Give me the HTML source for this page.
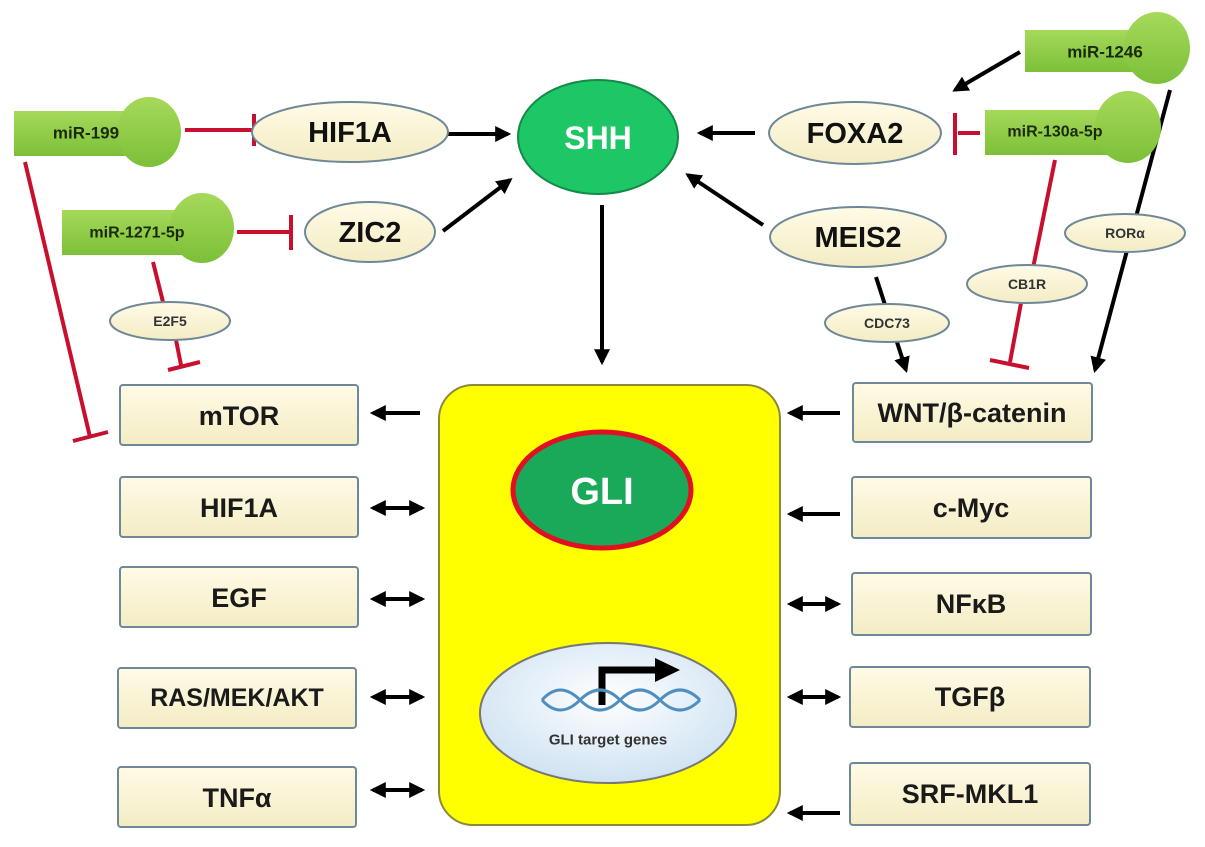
<!DOCTYPE html>
<html><head><meta charset="utf-8"><style>
html,body{margin:0;padding:0;background:#fff}
svg{display:block}
text{font-family:"Liberation Sans","DejaVu Sans",sans-serif;font-weight:bold;text-anchor:middle;dominant-baseline:central}
</style></head><body>
<svg width="1205" height="847" viewBox="0 0 1205 847" xmlns="http://www.w3.org/2000/svg">
<defs>
<marker id="ah" viewBox="0 0 10 10" refX="8" refY="5" markerWidth="4" markerHeight="4" orient="auto-start-reverse"><path d="M0,0 L10,5 L0,10 z" fill="#000"/></marker>
<linearGradient id="cream" x1="0" y1="0" x2="0" y2="1"><stop offset="0" stop-color="#fffbe6"/><stop offset="1" stop-color="#f3ecc4"/></linearGradient>
<linearGradient id="grn" x1="0" y1="0" x2="0" y2="1"><stop offset="0" stop-color="#a6d95a"/><stop offset="1" stop-color="#7cc038"/></linearGradient>
<radialGradient id="dna" cx="0.5" cy="0.4" r="0.6"><stop offset="0" stop-color="#ffffff"/><stop offset="1" stop-color="#cfe2f2"/></radialGradient>
</defs>

<g stroke="#000" stroke-width="4" fill="none" marker-end="url(#ah)">
<line x1="447" y1="134" x2="508" y2="134"/>
<line x1="443" y1="231" x2="510" y2="180"/>
<line x1="755" y1="133" x2="700" y2="133"/>
<line x1="763" y1="225" x2="688" y2="175"/>
<line x1="602" y1="205" x2="602" y2="362"/>
<line x1="1020" y1="52" x2="955" y2="90"/>
<line x1="1170" y1="90" x2="1095" y2="370"/>
<line x1="876" y1="277" x2="906" y2="370"/>
<line x1="840" y1="413" x2="790" y2="413"/>
<line x1="420" y1="413" x2="373" y2="413"/>
<line x1="840" y1="514" x2="790" y2="514"/>
<line x1="840" y1="813" x2="790" y2="813"/>
<line x1="603" y1="563" x2="603" y2="605"/>
</g>
<g stroke="#000" stroke-width="4" fill="none" marker-end="url(#ah)" marker-start="url(#ah)">
<line x1="373" y1="508" x2="422" y2="508"/>
<line x1="373" y1="599" x2="422" y2="599"/>
<line x1="373" y1="697" x2="422" y2="697"/>
<line x1="373" y1="790" x2="422" y2="790"/>
<line x1="790" y1="604" x2="838" y2="604"/>
<line x1="790" y1="697" x2="838" y2="697"/>
</g>

<g stroke="#c8102e" stroke-width="4" fill="none">
<line x1="185" y1="130" x2="253" y2="130"/><line x1="254" y1="114" x2="254" y2="146"/>
<line x1="237" y1="232" x2="290" y2="232"/><line x1="291" y1="215" x2="291" y2="250"/>
<line x1="980" y1="133" x2="958" y2="133"/><line x1="955" y1="113" x2="955" y2="155"/>
<line x1="25" y1="162" x2="90" y2="437"/><line x1="73" y1="441" x2="108" y2="432"/>
<line x1="153" y1="262" x2="163" y2="302"/>
<line x1="176" y1="340" x2="181" y2="365"/><line x1="168" y1="370" x2="200" y2="362"/>
<line x1="1055" y1="160" x2="1033" y2="268"/>
<line x1="1021" y1="303" x2="1010" y2="362"/><line x1="990" y1="360" x2="1029" y2="368"/>
</g>

<g stroke="none" fill="url(#grn)">
<rect x="14" y="111" width="140" height="45"/><ellipse cx="149" cy="132" rx="32" ry="35"/>
<rect x="62" y="210" width="150" height="45"/><ellipse cx="202" cy="228" rx="32" ry="35"/>
<rect x="1025" y="30" width="140" height="42"/><ellipse cx="1157" cy="48" rx="33" ry="36"/>
<rect x="985" y="110" width="145" height="45"/><ellipse cx="1128" cy="127" rx="33" ry="36"/>
</g>
<g font-size="17" fill="#1a2a0a">
<text x="86" y="133">miR-199</text>
<text x="137" y="233" font-size="16">miR-1271-5p</text>
<text x="1105" y="52">miR-1246</text>
<text x="1055" y="132" font-size="16">miR-130a-5p</text>
</g>

<g fill="url(#cream)" stroke="#6f8899" stroke-width="2">
<ellipse cx="350" cy="132" rx="98" ry="30"/>
<ellipse cx="370" cy="232" rx="65" ry="30"/>
<ellipse cx="855" cy="133" rx="86" ry="31"/>
<ellipse cx="858" cy="237" rx="88" ry="30"/>
<ellipse cx="170" cy="321" rx="60" ry="19"/>
<ellipse cx="887" cy="323" rx="62" ry="19"/>
<ellipse cx="1027" cy="284" rx="60" ry="19"/>
<ellipse cx="1125" cy="233" rx="60" ry="19"/>
</g>
<g font-size="29" fill="#111">
<text x="350" y="133">HIF1A</text>
<text x="370" y="233">ZIC2</text>
<text x="855" y="134">FOXA2</text>
<text x="858" y="238">MEIS2</text>
</g>
<g font-size="14" fill="#333">
<text x="170" y="321">E2F5</text>
<text x="887" y="323">CDC73</text>
<text x="1027" y="284">CB1R</text>
<text x="1125" y="233">RORα</text>
</g>

<ellipse cx="598" cy="137" rx="80" ry="57" fill="#1ec766" stroke="#158a48" stroke-width="2"/>
<text x="598" y="138" font-size="32" fill="#fff">SHH</text>

<rect x="439" y="385" width="341" height="440" rx="34" fill="#ffff00" stroke="#8a8a3a" stroke-width="2"/>
<ellipse cx="602" cy="490" rx="89" ry="58" fill="#1aa958" stroke="#e01020" stroke-width="5"/>
<text x="602" y="492" font-size="38" fill="#fff">GLI</text>
<ellipse cx="608" cy="713" rx="128" ry="70" fill="url(#dna)" stroke="#777" stroke-width="2"/>
<path d="M602,705 V670 H660" stroke="#000" stroke-width="7" fill="none"/>
<path d="M655,658 L680,670 L655,682 z" fill="#000"/>
<g stroke="#4f8fc0" stroke-width="3" fill="none">
<path d="M542,700 Q560,680 580,700 T620,700 T660,700 T700,700"/>
<path d="M542,700 Q560,720 580,700 T620,700 T660,700 T700,700"/>
</g>
<text x="608" y="740" font-size="15" fill="#333">GLI target genes</text>

<g fill="url(#cream)" stroke="#6f8899" stroke-width="2">
<rect x="120" y="385" width="238" height="60" rx="3"/>
<rect x="120" y="477" width="238" height="60" rx="3"/>
<rect x="120" y="567" width="238" height="60" rx="3"/>
<rect x="118" y="668" width="238" height="60" rx="3"/>
<rect x="118" y="767" width="238" height="60" rx="3"/>
<rect x="853" y="383" width="239" height="59" rx="3"/>
<rect x="852" y="477" width="239" height="61" rx="3"/>
<rect x="852" y="573" width="239" height="62" rx="3"/>
<rect x="850" y="667" width="240" height="60" rx="3"/>
<rect x="850" y="763" width="240" height="62" rx="3"/>
</g>
<g font-size="27" fill="#1a1a1a">
<text x="239" y="416">mTOR</text>
<text x="239" y="508">HIF1A</text>
<text x="239" y="598">EGF</text>
<text x="237" y="698" font-size="25">RAS/MEK/AKT</text>
<text x="237" y="798">TNFα</text>
<text x="972" y="413">WNT/β-catenin</text>
<text x="971" y="508">c-Myc</text>
<text x="971" y="604">NFκB</text>
<text x="970" y="697">TGFβ</text>
<text x="970" y="794">SRF-MKL1</text>
</g>
</svg>
</body></html>
